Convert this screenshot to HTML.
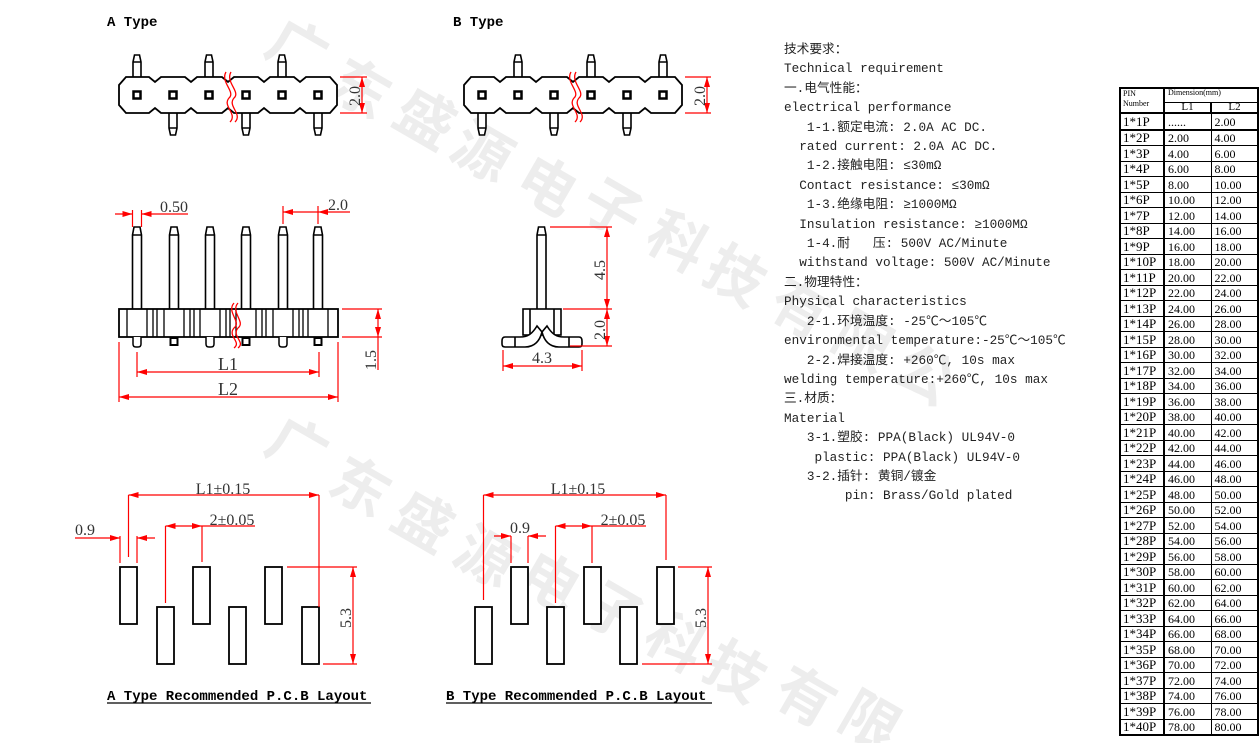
<!DOCTYPE html>
<html><head><meta charset="utf-8">
<style>
body{margin:0;width:1260px;height:743px;background:#fff;position:relative;overflow:hidden;font-family:"Liberation Serif",serif}
svg{position:absolute;left:0;top:0}
.req{position:absolute;left:784px;top:40px;font:12.7px/19.4px "Liberation Mono","Noto Sans CJK SC",monospace;white-space:pre;color:#222}
table{position:absolute;left:1119px;top:87px;width:138px;border-collapse:collapse;border:2px solid #000;font-family:"Liberation Serif",serif;table-layout:fixed}
td{border:1px solid #000;padding:0 0 0 3px;height:14.5px;line-height:14px;font-size:12px;vertical-align:bottom;overflow:hidden;white-space:nowrap}
td:first-child{font-size:13px;padding-left:2px;border-right:2px solid #000}
tr.h td{font-size:8px;line-height:8px;vertical-align:top}
tr.h2 td{height:9px;font-size:11px;line-height:9px;text-align:center;padding:0}
tr.r{border-bottom:2px solid #000}
</style></head><body>
<svg width="1260" height="743" viewBox="0 0 1260 743">
<defs>
<marker id="a" viewBox="0 0 10 6" refX="10" refY="3" markerWidth="10" markerHeight="6" markerUnits="userSpaceOnUse" orient="auto-start-reverse"><path d="M0,0L10,3L0,6z" fill="#f00"/></marker>
<path id="tp" d="M-4,77V62L-2.5,55H2.5L4,62V77M-4,62H4" fill="#fff" stroke="#000" stroke-width="1.6"/>
<path id="bp" d="M-4,113V128L-2.5,135H2.5L4,128V113M-4,128H4" fill="#fff" stroke="#000" stroke-width="1.6"/>
<rect id="sq" x="-3.5" y="91.5" width="7" height="7" fill="#fff" stroke="#000" stroke-width="2.5"/>
<path id="body" d="M119,85L126,77H149L155,82L161,77H185L191,82L197,77H222L228,82L234,77H258L264,82L270,77H294L300,82L306,77H330L337,85V105L330,113H306L300,108L294,113H270L264,108L258,113H234L228,108L222,113H197L191,108L185,113H161L155,108L149,113H126L119,105Z" fill="#fff" stroke="#000" stroke-width="1.8"/>
<path id="sp" d="M-4.5,309V235L-3,227H3L4.5,235V309M-4.5,235H4.5" fill="#fff" stroke="#000" stroke-width="1.6"/>
<path id="st" d="M-4,337V344Q-4,347 -1,347H1Q4,347 4,344V337" fill="#fff" stroke="#000" stroke-width="1.5"/>
<rect id="ss" x="-3.5" y="338" width="7" height="7" fill="#fff" stroke="#000" stroke-width="2"/>
<rect id="pad" width="17" height="57" fill="#fff" stroke="#000" stroke-width="1.8"/>
</defs>
<g fill="#ededed" font-family="Noto Sans CJK SC,sans-serif" font-size="58" font-weight="bold">
<text transform="translate(262,52) rotate(30)">广</text><text transform="translate(325,92) rotate(30)">东</text><text transform="translate(390,122) rotate(30)">盛</text><text transform="translate(447,155) rotate(30)">源</text><text transform="translate(512,189) rotate(30)">电</text><text transform="translate(577,212) rotate(30)">子</text><text transform="translate(642,245) rotate(30)">科</text><text transform="translate(700,279) rotate(30)">技</text><text transform="translate(765,312) rotate(30)">有</text><text transform="translate(828,345) rotate(30)">限</text><text transform="translate(890,378) rotate(30)">公</text>
<text transform="translate(262,450) rotate(30)">广</text><text transform="translate(325,490) rotate(30)">东</text><text transform="translate(388,525) rotate(30)">盛</text><text transform="translate(450,560) rotate(30)">源</text><text transform="translate(515,585) rotate(30)">电</text><text transform="translate(578,615) rotate(30)">子</text><text transform="translate(640,645) rotate(30)">科</text><text transform="translate(700,675) rotate(30)">技</text><text transform="translate(770,700) rotate(30)">有</text><text transform="translate(835,725) rotate(30)">限</text>
</g>
<g font-family="Liberation Mono,monospace" font-weight="bold" font-size="14" fill="#000">
<text x="107" y="26">A Type</text><text x="453" y="26">B Type</text>
<text x="107" y="700">A Type Recommended P.C.B Layout</text><text x="446" y="700">B Type Recommended P.C.B Layout</text>
</g>
<line x1="107" y1="703" x2="371" y2="703" stroke="#000" stroke-width="1.2"/><line x1="446" y1="703" x2="712" y2="703" stroke="#000" stroke-width="1.2"/>

<g>
<use href="#tp" x="137"/><use href="#tp" x="209"/><use href="#tp" x="282"/>
<use href="#bp" x="173"/><use href="#bp" x="246"/><use href="#bp" x="318"/>
<use href="#body"/>
<use href="#sq" x="137"/><use href="#sq" x="173"/><use href="#sq" x="209"/><use href="#sq" x="246"/><use href="#sq" x="282"/><use href="#sq" x="318"/>
<path d="M226,72C220,82 236,92 229,98C222,106 238,114 230,122" fill="none" stroke="#f00" stroke-width="1.3"/>
<path d="M231,72C225,82 241,92 234,98C227,106 243,114 235,122" fill="none" stroke="#f00" stroke-width="1.3"/>
</g>
<g transform="translate(345,0)">
<use href="#tp" x="173"/><use href="#tp" x="246"/><use href="#tp" x="318"/>
<use href="#bp" x="137"/><use href="#bp" x="209"/><use href="#bp" x="282"/>
<use href="#body"/>
<use href="#sq" x="137"/><use href="#sq" x="173"/><use href="#sq" x="209"/><use href="#sq" x="246"/><use href="#sq" x="282"/><use href="#sq" x="318"/>
<path d="M226,72C220,82 236,92 229,98C222,106 238,114 230,122" fill="none" stroke="#f00" stroke-width="1.3"/>
<path d="M231,72C225,82 241,92 234,98C227,106 243,114 235,122" fill="none" stroke="#f00" stroke-width="1.3"/>
</g>
<g stroke="#f00" stroke-width="1.2" fill="none">
<path d="M340,77H367M340,113H367M685,77H711M685,113H711"/>
<line x1="362" y1="77" x2="362" y2="113" marker-start="url(#a)" marker-end="url(#a)"/>
<line x1="707" y1="77" x2="707" y2="113" marker-start="url(#a)" marker-end="url(#a)"/>
</g>
<g font-family="Liberation Serif,serif" font-size="16" fill="#333">
<text transform="translate(360,106) rotate(-90)">2.0</text>
<text transform="translate(705,106) rotate(-90)">2.0</text>
</g>

<g>
<use href="#sp" x="137"/><use href="#sp" x="174"/><use href="#sp" x="210"/><use href="#sp" x="246"/><use href="#sp" x="283"/><use href="#sp" x="318"/>
<rect x="119" y="309" width="219" height="28" fill="#fff" stroke="#000" stroke-width="1.8"/>
<path d="M127,309V337M147,309V337M153,309V337M157,309V337M164,309V337M184,309V337M190,309V337M194,309V337M200,309V337M220,309V337M226,309V337M230,309V337M236,309V337M256,309V337M262,309V337M266,309V337M273,309V337M293,309V337M299,309V337M303,309V337M308,309V337M328,309V337" stroke="#000" stroke-width="1.3"/>
<use href="#st" x="137"/><use href="#st" x="210"/><use href="#st" x="283"/>
<use href="#ss" x="174"/><use href="#ss" x="246"/><use href="#ss" x="318"/>
<path d="M234,303C226,312 242,322 234,328C227,336 242,342 234,348" fill="none" stroke="#f00" stroke-width="1.3"/>
<path d="M238,303C230,312 246,322 238,328C231,336 246,342 238,348" fill="none" stroke="#f00" stroke-width="1.3"/>
</g>
<g stroke="#f00" stroke-width="1.2" fill="none">
<path d="M132.5,210V227M141.5,210V227M283,206V224M318,206V224M342,309H382M342,337H382M137,352V377M319,352V377M119,342V402M338,342V402"/>
<line x1="115" y1="214" x2="132.5" y2="214" marker-end="url(#a)"/>
<line x1="188" y1="214" x2="141.5" y2="214" marker-end="url(#a)"/>
<line x1="350" y1="212" x2="318" y2="212" marker-end="url(#a)"/>
<line x1="318" y1="212" x2="283" y2="212" marker-end="url(#a)"/>
<line x1="378" y1="309" x2="378" y2="337" marker-start="url(#a)" marker-end="url(#a)"/>
<line x1="378" y1="337" x2="378" y2="370"/>
<line x1="137" y1="372" x2="319" y2="372" marker-start="url(#a)" marker-end="url(#a)"/>
<line x1="119" y1="397" x2="338" y2="397" marker-start="url(#a)" marker-end="url(#a)"/>
</g>
<g font-family="Liberation Serif,serif" font-size="16" fill="#333">
<text x="160" y="212">0.50</text><text x="328" y="210">2.0</text>
<text transform="translate(376,370) rotate(-90)">1.5</text>
<text x="228" y="370" text-anchor="middle" font-size="18">L1</text><text x="228" y="395" text-anchor="middle" font-size="18">L2</text>
</g>

<g stroke="#000" stroke-width="1.6" fill="#fff">
<path d="M537,309V235L538.5,227H544.5L546,235V309M537,235H546"/>
<rect x="523" y="309" width="38" height="26"/>
<path d="M530,309V335M554,309V335" fill="none"/>
<path d="M537,326C532,334 528,337 520,337H505Q502,337 502,341V344Q502,347 505,347H525C535,347 540,340 542,332Z"/>
<path d="M547,326C552,334 556,337 564,337H579Q582,337 582,341V344Q582,347 579,347H559C549,347 544,340 542,332Z"/>
<path d="M515,337V347M569,337V347" fill="none"/>
</g>
<g stroke="#f00" stroke-width="1.2" fill="none">
<path d="M550,227H612M563,309H612M570,346H612M503,350V371M582,350V371"/>
<line x1="607" y1="227" x2="607" y2="309" marker-start="url(#a)" marker-end="url(#a)"/>
<line x1="607" y1="309" x2="607" y2="346" marker-start="url(#a)" marker-end="url(#a)"/>
<line x1="503" y1="366" x2="582" y2="366" marker-start="url(#a)" marker-end="url(#a)"/>
</g>
<g font-family="Liberation Serif,serif" font-size="16" fill="#333">
<text transform="translate(605,280) rotate(-90)">4.5</text>
<text transform="translate(605,340) rotate(-90)">2.0</text>
<text x="542" y="363" text-anchor="middle">4.3</text>
</g>

<use href="#pad" x="120" y="567"/><use href="#pad" x="193" y="567"/><use href="#pad" x="265" y="567"/>
<use href="#pad" x="157" y="607"/><use href="#pad" x="229" y="607"/><use href="#pad" x="302" y="607"/>
<g stroke="#f00" stroke-width="1.2" fill="none">
<path d="M128.5,495V557M319,495V607M165.5,526V603M202,526V562M120,536V563M137,536V563M287,567H357M323,664H357M202,526H255"/>
<line x1="128.5" y1="495" x2="319" y2="495" marker-start="url(#a)" marker-end="url(#a)"/>
<line x1="165.5" y1="526" x2="202" y2="526" marker-start="url(#a)" marker-end="url(#a)"/>
<line x1="75" y1="538" x2="120" y2="538" marker-end="url(#a)"/>
<line x1="155" y1="538" x2="137" y2="538" marker-end="url(#a)"/>
<line x1="353" y1="567" x2="353" y2="664" marker-start="url(#a)" marker-end="url(#a)"/>
</g>
<use href="#pad" x="511" y="567"/><use href="#pad" x="584" y="567"/><use href="#pad" x="657" y="567"/>
<use href="#pad" x="475" y="607"/><use href="#pad" x="547" y="607"/><use href="#pad" x="620" y="607"/>
<g stroke="#f00" stroke-width="1.2" fill="none">
<path d="M483.5,495V600M666,495V560M555.5,526V603M592,526V563M511,536V563M528,536V563M678,567H712M642,664H712M592,526H646"/>
<line x1="483.5" y1="495" x2="666" y2="495" marker-start="url(#a)" marker-end="url(#a)"/>
<line x1="555.5" y1="526" x2="592" y2="526" marker-start="url(#a)" marker-end="url(#a)"/>
<line x1="494" y1="536" x2="511" y2="536" marker-end="url(#a)"/>
<line x1="546" y1="536" x2="528" y2="536" marker-end="url(#a)"/>
<line x1="708" y1="567" x2="708" y2="664" marker-start="url(#a)" marker-end="url(#a)"/>
</g>
<g font-family="Liberation Serif,serif" font-size="16" fill="#333">
<text x="223" y="494" text-anchor="middle">L1±0.15</text>
<text x="232" y="525" text-anchor="middle">2±0.05</text>
<text x="75" y="535">0.9</text>
<text transform="translate(351,628) rotate(-90)">5.3</text>
<text x="578" y="494" text-anchor="middle">L1±0.15</text>
<text x="623" y="525" text-anchor="middle">2±0.05</text>
<text x="520" y="533" text-anchor="middle">0.9</text>
<text transform="translate(706,628) rotate(-90)">5.3</text>
</g>
</svg>

<div class="req">技术要求：
Technical requirement
一.电气性能：
electrical performance
   1-1.额定电流: 2.0A AC DC.
  rated current: 2.0A AC DC.
   1-2.接触电阻: ≤30mΩ
  Contact resistance: ≤30mΩ
   1-3.绝缘电阻: ≥1000MΩ
  Insulation resistance: ≥1000MΩ
   1-4.耐   压: 500V AC/Minute
  withstand voltage: 500V AC/Minute
二.物理特性：
Physical characteristics
   2-1.环境温度: -25℃～105℃
environmental temperature:-25℃～105℃
   2-2.焊接温度: +260℃, 10s max
welding temperature:+260℃, 10s max
三.材质：
Material
   3-1.塑胶: PPA(Black) UL94V-0
    plastic: PPA(Black) UL94V-0
   3-2.插针: 黄铜/镀金
        pin: Brass/Gold plated</div>

<table>
<colgroup><col style="width:44px"><col style="width:47px"><col style="width:47px"></colgroup>
<tr class="h"><td rowspan="2" style="font-size:8px;line-height:10px;vertical-align:top">PIN<br>Number</td><td colspan="2" style="height:13px">Dimension(mm)</td></tr>
<tr class="h2 r"><td>L1</td><td>L2</td></tr>
<tr class="r"><td>1*1P</td><td>......</td><td>2.00</td></tr>
<tr><td>1*2P</td><td>2.00</td><td>4.00</td></tr>
<tr><td>1*3P</td><td>4.00</td><td>6.00</td></tr>
<tr><td>1*4P</td><td>6.00</td><td>8.00</td></tr>
<tr><td>1*5P</td><td>8.00</td><td>10.00</td></tr>
<tr><td>1*6P</td><td>10.00</td><td>12.00</td></tr>
<tr><td>1*7P</td><td>12.00</td><td>14.00</td></tr>
<tr><td>1*8P</td><td>14.00</td><td>16.00</td></tr>
<tr><td>1*9P</td><td>16.00</td><td>18.00</td></tr>
<tr><td>1*10P</td><td>18.00</td><td>20.00</td></tr>
<tr><td>1*11P</td><td>20.00</td><td>22.00</td></tr>
<tr><td>1*12P</td><td>22.00</td><td>24.00</td></tr>
<tr><td>1*13P</td><td>24.00</td><td>26.00</td></tr>
<tr><td>1*14P</td><td>26.00</td><td>28.00</td></tr>
<tr><td>1*15P</td><td>28.00</td><td>30.00</td></tr>
<tr><td>1*16P</td><td>30.00</td><td>32.00</td></tr>
<tr><td>1*17P</td><td>32.00</td><td>34.00</td></tr>
<tr><td>1*18P</td><td>34.00</td><td>36.00</td></tr>
<tr><td>1*19P</td><td>36.00</td><td>38.00</td></tr>
<tr><td>1*20P</td><td>38.00</td><td>40.00</td></tr>
<tr><td>1*21P</td><td>40.00</td><td>42.00</td></tr>
<tr><td>1*22P</td><td>42.00</td><td>44.00</td></tr>
<tr><td>1*23P</td><td>44.00</td><td>46.00</td></tr>
<tr><td>1*24P</td><td>46.00</td><td>48.00</td></tr>
<tr><td>1*25P</td><td>48.00</td><td>50.00</td></tr>
<tr><td>1*26P</td><td>50.00</td><td>52.00</td></tr>
<tr><td>1*27P</td><td>52.00</td><td>54.00</td></tr>
<tr><td>1*28P</td><td>54.00</td><td>56.00</td></tr>
<tr><td>1*29P</td><td>56.00</td><td>58.00</td></tr>
<tr><td>1*30P</td><td>58.00</td><td>60.00</td></tr>
<tr><td>1*31P</td><td>60.00</td><td>62.00</td></tr>
<tr><td>1*32P</td><td>62.00</td><td>64.00</td></tr>
<tr><td>1*33P</td><td>64.00</td><td>66.00</td></tr>
<tr><td>1*34P</td><td>66.00</td><td>68.00</td></tr>
<tr><td>1*35P</td><td>68.00</td><td>70.00</td></tr>
<tr><td>1*36P</td><td>70.00</td><td>72.00</td></tr>
<tr><td>1*37P</td><td>72.00</td><td>74.00</td></tr>
<tr><td>1*38P</td><td>74.00</td><td>76.00</td></tr>
<tr><td>1*39P</td><td>76.00</td><td>78.00</td></tr>
<tr><td>1*40P</td><td>78.00</td><td>80.00</td></tr>
</table>
</body></html>
